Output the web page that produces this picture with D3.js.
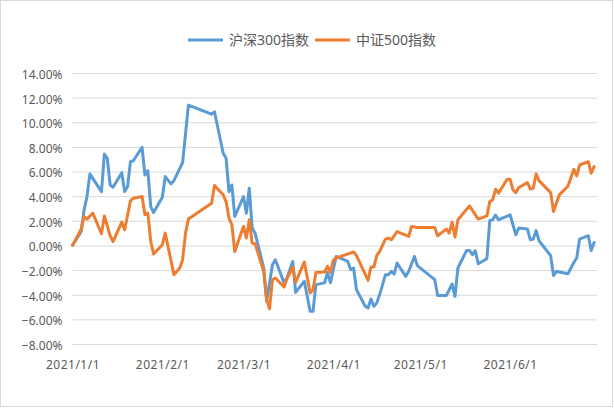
<!DOCTYPE html>
<html>
<head>
<meta charset="utf-8">
<script src="https://cdn.jsdelivr.net/npm/d3@7"></script>
<style>
    body { margin: 0; background: #fff; }
    text { font-family: "Noto Sans", "Noto Sans CJK SC", sans-serif; fill: #595959; }
</style>
</head>
<body>
<div id="chart"></div>
<script>
const seriesNames = ["沪深300指数", "中证500指数"];
const seriesColors = ["#5B9BD5", "#ED7D31"];

const monthTicks = ["2021-01-01", "2021-02-01", "2021-03-01", "2021-04-01", "2021-05-01", "2021-06-01"];
const yTicks = [-8, -6, -4, -2, 0, 2, 4, 6, 8, 10, 12, 14];

const hs300Dates = [
    "2021-01-01", "2021-01-04", "2021-01-05", "2021-01-06", "2021-01-07", "2021-01-11", "2021-01-12", "2021-01-13", "2021-01-14", "2021-01-15",
    "2021-01-18", "2021-01-19", "2021-01-20", "2021-01-21", "2021-01-22", "2021-01-25", "2021-01-26", "2021-01-27", "2021-01-28", "2021-01-29",
    "2021-02-01", "2021-02-02", "2021-02-04", "2021-02-05", "2021-02-08", "2021-02-10", "2021-02-18", "2021-02-19", "2021-02-22", "2021-02-23",
    "2021-02-24", "2021-02-25", "2021-02-26",
    "2021-03-01", "2021-03-02", "2021-03-03", "2021-03-04", "2021-03-05", "2021-03-08", "2021-03-09", "2021-03-11", "2021-03-12", "2021-03-15",
    "2021-03-16", "2021-03-18", "2021-03-19", "2021-03-22", "2021-03-24", "2021-03-25", "2021-03-26", "2021-03-29", "2021-03-30", "2021-03-31",
    "2021-04-02", "2021-04-06", "2021-04-07", "2021-04-08", "2021-04-09", "2021-04-12", "2021-04-13", "2021-04-14", "2021-04-15", "2021-04-16",
    "2021-04-17", "2021-04-19", "2021-04-20", "2021-04-21", "2021-04-22", "2021-04-23", "2021-04-26", "2021-04-27", "2021-04-29", "2021-04-30",
    "2021-05-06", "2021-05-07", "2021-05-10", "2021-05-12", "2021-05-13", "2021-05-14", "2021-05-17", "2021-05-18", "2021-05-19", "2021-05-20",
    "2021-05-21", "2021-05-24", "2021-05-25", "2021-05-26", "2021-05-27", "2021-05-28",
    "2021-06-01", "2021-06-03", "2021-06-04", "2021-06-07", "2021-06-08", "2021-06-09", "2021-06-10", "2021-06-11", "2021-06-15", "2021-06-16",
    "2021-06-17", "2021-06-21", "2021-06-23", "2021-06-24", "2021-06-25", "2021-06-28", "2021-06-29", "2021-06-30"
];
const hs300Values = [
    0, 1.13, 2.89, 3.97, 5.81, 4.37, 7.42, 7.08, 4.91, 4.73,
    5.91, 4.37, 4.78, 6.80, 6.88, 7.97, 5.72, 6.07, 3.16, 2.67,
    3.92, 5.59, 5.0, 5.26, 6.72, 11.39, 10.66, 10.85, 7.48, 7.08,
    4.37, 4.91, 2.35,
    3.97, 2.62, 4.65, 1.41, 1.0, -1.83, -4.53, -1.56, -1.16, -3.04,
    -2.64, -1.30, -3.81, -2.91, -5.34, -5.34, -3.18, -3.04, -2.19, -3.04,
    -0.89, -1.30, -1.97, -1.83, -3.59, -4.94, -5.07, -4.34, -4.94, -4.66,
    -3.99, -2.37, -2.37, -2.11, -2.32, -1.43, -2.51, -2.11, -0.89, -1.64,
    -2.78, -4.07, -4.07, -3.13, -4.13, -1.83, -0.40, -0.40, -0.75, -0.43,
    -1.48, -1.08, 2.02, 2.08, 2.46, 2.08,
    2.49, 0.87, 1.41, 1.33, 0.46, 0.52, 1.21, 0.38, -0.83, -2.45,
    -2.11, -2.29, -1.38, -1.02, 0.52, 0.79, -0.40, 0.24
];

const zz500Dates = [
    "2021-01-01", "2021-01-04", "2021-01-05", "2021-01-06", "2021-01-08", "2021-01-11", "2021-01-12", "2021-01-14", "2021-01-15", "2021-01-18",
    "2021-01-19", "2021-01-21", "2021-01-22", "2021-01-25", "2021-01-26", "2021-01-27", "2021-01-28", "2021-01-29",
    "2021-02-01", "2021-02-02", "2021-02-05", "2021-02-07", "2021-02-08", "2021-02-09", "2021-02-10", "2021-02-18", "2021-02-19", "2021-02-22",
    "2021-02-23", "2021-02-24", "2021-02-25", "2021-02-26",
    "2021-03-01", "2021-03-02", "2021-03-03", "2021-03-04", "2021-03-05", "2021-03-08", "2021-03-09", "2021-03-10", "2021-03-11", "2021-03-12",
    "2021-03-15", "2021-03-16", "2021-03-18", "2021-03-19", "2021-03-22", "2021-03-24", "2021-03-25", "2021-03-26", "2021-03-29", "2021-03-30",
    "2021-03-31",
    "2021-04-01", "2021-04-02", "2021-04-08", "2021-04-09", "2021-04-13", "2021-04-14", "2021-04-15", "2021-04-16", "2021-04-17", "2021-04-19",
    "2021-04-20", "2021-04-21", "2021-04-23", "2021-04-27", "2021-04-28", "2021-04-30",
    "2021-05-06", "2021-05-07", "2021-05-10", "2021-05-11", "2021-05-12", "2021-05-13", "2021-05-14", "2021-05-18", "2021-05-21", "2021-05-24",
    "2021-05-25", "2021-05-26", "2021-05-27", "2021-05-28", "2021-05-31",
    "2021-06-01", "2021-06-02", "2021-06-03", "2021-06-04", "2021-06-07", "2021-06-08", "2021-06-09", "2021-06-10", "2021-06-11", "2021-06-15",
    "2021-06-16", "2021-06-18", "2021-06-21", "2021-06-23", "2021-06-24", "2021-06-25", "2021-06-28", "2021-06-29", "2021-06-30"
];
const zz500Values = [
    0, 1.33, 2.35, 2.14, 2.62, 0.95, 2.40, 0.79, 0.32, 1.89,
    1.27, 3.62, 3.84, 3.97, 2.49, 2.62, 0.32, -0.70,
    0.06, 1.0, -2.37, -1.83, -1.16, 1.0, 2.14, 3.43, 4.86, 4.11,
    3.56, 2.22, 1.68, -0.49,
    1.54, 0.60, 2.08, 0.19, 0.14, -2.11, -4.40, -5.15, -2.78, -2.64,
    -3.37, -2.72, -1.75, -3.00, -1.34, -3.85, -3.59, -2.19, -2.15, -1.70,
    -2.19,
    -1.21, -1.02, -0.53, -0.83, -2.83, -1.75, -1.75, -0.81, -0.49, 0.52,
    0.60, 0.46, 1.13, 0.73, 1.54, 1.46,
    1.46, 0.79, 1.33, 1.0, 1.89, 0.68, 2.08, 3.21, 2.14, 2.40,
    3.56, 3.70, 4.57, 4.24, 5.38,
    5.38, 4.51, 4.29, 4.70, 5.10, 4.57, 4.65, 5.81, 5.26, 4.29,
    2.75, 4.11, 4.83, 6.19, 5.64, 6.53, 6.80, 5.86, 6.40
];

const totalWidth = 614;
const totalHeight = 408;
const margin = { top: 73, right: 17, bottom: 64, left: 72.5 };
const width = totalWidth - margin.left - margin.right;
const height = totalHeight - margin.top - margin.bottom;

const parseDate = d3.timeParse("%Y-%m-%d");

const series = [
    { name: seriesNames[0], color: seriesColors[0], points: hs300Dates.map((d, i) => ({ date: parseDate(d), value: hs300Values[i] })) },
    { name: seriesNames[1], color: seriesColors[1], points: zz500Dates.map((d, i) => ({ date: parseDate(d), value: zz500Values[i] })) }
];

const svgRoot = d3.select("#chart")
    .append("svg")
    .attr("width", totalWidth)
    .attr("height", totalHeight);

svgRoot.append("rect")
    .attr("x", 0.5)
    .attr("y", 0.5)
    .attr("width", totalWidth - 2)
    .attr("height", totalHeight - 2)
    .attr("fill", "#fff")
    .attr("stroke", "#d9d9d9");

const svg = svgRoot.append("g")
    .attr("transform", `translate(${margin.left},${margin.top})`);

const xScale = d3.scaleTime()
    .domain([parseDate("2021-01-01"), parseDate("2021-07-01")])
    .range([0, width]);

const yScale = d3.scaleLinear()
    .domain([-8, 14])
    .range([height, 0]);

// gridlines + y labels
const yAxis = svg.append("g")
    .call(d3.axisLeft(yScale)
        .tickValues(yTicks)
        .tickSize(-width)
        .tickPadding(10)
        .tickFormat((d) => d3.format(".2f")(d) + "%"));

yAxis.select(".domain").remove();
yAxis.selectAll(".tick line")
    .attr("stroke", "#d9d9d9")
    .attr("stroke-width", 1);
yAxis.selectAll(".tick text")
    .style("font-size", "12px")
    .attr("dy", "0.45em");

const xAxis = svg.append("g")
    .attr("transform", `translate(0,${height})`)
    .call(d3.axisBottom(xScale)
        .tickValues(monthTicks.map(parseDate))
        .tickSize(0)
        .tickPadding(16)
        .tickFormat(d3.timeFormat("%Y/%-m/%-d")));

xAxis.select(".domain").remove();
xAxis.selectAll(".tick text")
    .style("font-size", "12px")
    .style("letter-spacing", "0.5px");

const line = d3.line()
    .x((d) => xScale(d.date))
    .y((d) => yScale(d.value));

series.forEach((s) => {
    svg.append("path")
        .datum(s.points)
        .attr("fill", "none")
        .attr("stroke", s.color)
        .attr("stroke-width", 3)
        .attr("stroke-linejoin", "round")
        .attr("stroke-linecap", "round")
        .attr("d", line);
});

// legend
const legendX = [188, 315];
const legend = svgRoot.append("g")
    .attr("transform", "translate(0,40)");

series.forEach((s, i) => {
    legend.append("line")
        .attr("x1", legendX[i])
        .attr("x2", legendX[i] + 35)
        .attr("y1", 0)
        .attr("y2", 0)
        .attr("stroke", s.color)
        .attr("stroke-width", 3);

    legend.append("text")
        .attr("x", legendX[i] + 41)
        .attr("y", 0)
        .attr("dy", "0.36em")
        .style("font-size", "14px")
        .text(s.name);
});
</script>
</body>
</html>
